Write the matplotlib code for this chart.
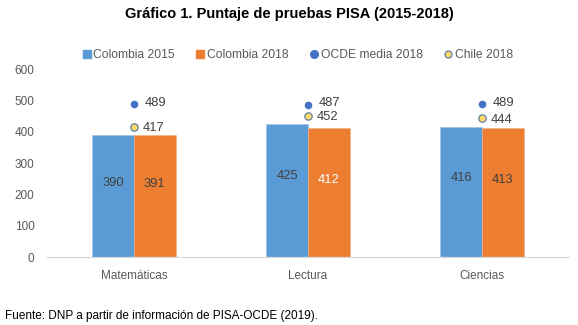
import matplotlib
matplotlib.use("Agg")
import matplotlib.pyplot as plt
from matplotlib.lines import Line2D
import numpy as np

plt.rcParams["font.family"] = ["Liberation Sans", "DejaVu Sans"]

# PISA scores by area
areas = ["Matemáticas", "Lectura", "Ciencias"]
colombia_2015 = [390, 425, 416]
colombia_2018 = [391, 412, 413]
ocde_2018 = [489, 487, 489]
chile_2018 = [417, 452, 444]

BLUE = "#5B9BD5"
ORANGE = "#ED7D31"
DOT_BLUE = "#4472C4"
YELLOW = "#FFD966"
GREY_TXT = "#595959"
DARK_TXT = "#404040"

fig = plt.figure(figsize=(5.78, 3.25), dpi=100)
ax = fig.add_axes([0.0813, 0.2083, 0.9031, 0.5785])

x = np.arange(len(areas))
w = 0.24

ax.bar(x - w / 2, colombia_2015, width=w, color=BLUE, edgecolor="#9DC3E6", linewidth=0.4, zorder=2)
ax.bar(x + w / 2, colombia_2018, width=w, color=ORANGE, edgecolor="#F4B183", linewidth=0.4, zorder=2)

# bar value labels
for i in range(len(areas)):
    ax.text(x[i] - w / 2, colombia_2015[i] * 0.61, str(colombia_2015[i]),
            ha="center", va="center", fontsize=9.3, color=DARK_TXT, zorder=4)
    c = "white" if areas[i] == "Lectura" else DARK_TXT
    ax.text(x[i] + w / 2, colombia_2018[i] * 0.6, str(colombia_2018[i]),
            ha="center", va="center", fontsize=9.3, color=c, zorder=4)

# reference points
ax.scatter(x, ocde_2018, s=30, color=DOT_BLUE, zorder=5, linewidths=0)
ax.scatter(x, chile_2018, s=28, color=YELLOW, edgecolors="#5B7FA6", linewidths=0.9, zorder=5)
for i in range(len(areas)):
    ax.annotate(str(ocde_2018[i]), (x[i], ocde_2018[i]), xytext=(8, 1),
                textcoords="offset points", ha="left", va="center",
                fontsize=9.3, color=DARK_TXT)
    ax.annotate(str(chile_2018[i]), (x[i], chile_2018[i]), xytext=(6, -1),
                textcoords="offset points", ha="left", va="center",
                fontsize=9.3, color=DARK_TXT)

ax.set_xlim(-0.5, len(areas) - 0.5)
ax.set_ylim(0, 600)
ax.set_yticks(range(0, 601, 100))
ax.set_xticks(x)
ax.set_xticklabels(areas)
ax.tick_params(axis="both", length=0, labelsize=8.5, colors=GREY_TXT)
ax.tick_params(axis="y", pad=9)
ax.tick_params(axis="x", pad=9)
for side in ["top", "right", "left"]:
    ax.spines[side].set_visible(False)
ax.spines["bottom"].set_color("#D9D9D9")
ax.spines["bottom"].set_linewidth(0.9)

handles = [
    Line2D([], [], marker="s", linestyle="none", markersize=6, color=BLUE),
    Line2D([], [], marker="s", linestyle="none", markersize=6, color=ORANGE),
    Line2D([], [], marker="o", linestyle="none", markersize=5.5, color=DOT_BLUE),
    Line2D([], [], marker="o", linestyle="none", markersize=5, markerfacecolor=YELLOW,
           markeredgecolor="#5B7FA6", markeredgewidth=0.9),
]
labels = ["Colombia 2015", "Colombia 2018", "OCDE media 2018", "Chile 2018"]
fig.legend(handles, labels, loc="center", bbox_to_anchor=(0.515, 0.831), ncol=4,
           frameon=False, fontsize=8.7, handlelength=0.7, handletextpad=0.2,
           columnspacing=1.75, labelcolor=GREY_TXT)

fig.text(289 / 578, 1 - 14 / 325, "Gráfico 1. Puntaje de pruebas PISA (2015-2018)",
         ha="center", va="center", fontsize=10.5, fontweight="bold", color="black")
fig.text(5 / 578, 1 - 316 / 325, "Fuente: DNP a partir de información de PISA-OCDE (2019).",
         ha="left", va="center", fontsize=8.5, color="black")

fig.savefig("out.png", dpi=100)
